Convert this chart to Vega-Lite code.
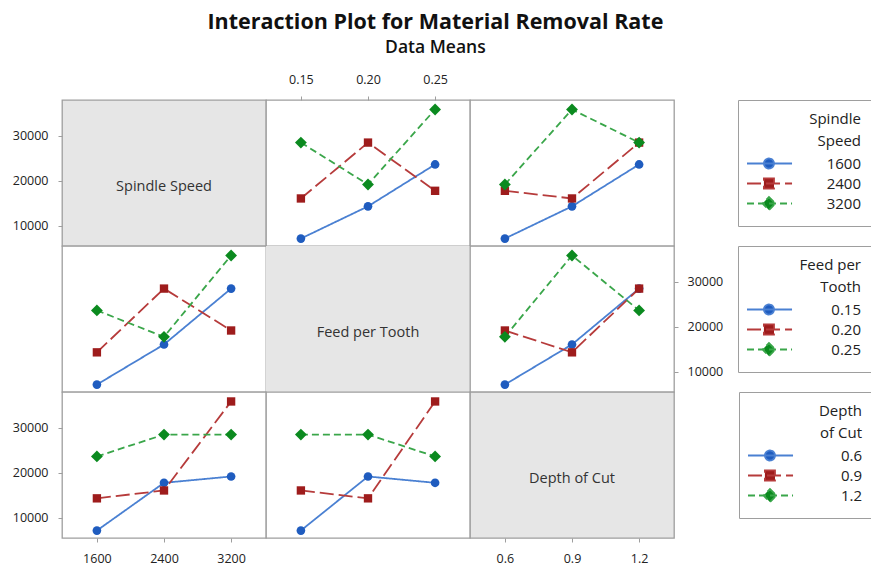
{
  "$schema": "https://vega.github.io/schema/vega-lite/v6.json",
  "padding": {"left": 11, "top": 12, "right": 0, "bottom": 0},
  "title": {
    "text": "Interaction Plot for Material Removal Rate",
    "subtitle": "Data Means",
    "anchor": "middle",
    "dx": -8,
    "font": "Open Sans",
    "subtitleFont": "Open Sans",
    "fontSize": 21.5,
    "subtitleFontSize": 17.5,
    "fontWeight": "bold",
    "subtitleFontWeight": 600,
    "color": "#111111",
    "subtitleColor": "#111111",
    "subtitlePadding": 5,
    "offset": 16
  },
  "datasets": {
    "means": [
      {"p": "12", "s": "1600", "x": "0.15", "MRR": 7150},
      {"p": "12", "s": "1600", "x": "0.20", "MRR": 14300},
      {"p": "12", "s": "1600", "x": "0.25", "MRR": 23600},
      {"p": "12", "s": "2400", "x": "0.15", "MRR": 16050},
      {"p": "12", "s": "2400", "x": "0.20", "MRR": 28450},
      {"p": "12", "s": "2400", "x": "0.25", "MRR": 17750},
      {"p": "12", "s": "3200", "x": "0.15", "MRR": 28450},
      {"p": "12", "s": "3200", "x": "0.20", "MRR": 19150},
      {"p": "12", "s": "3200", "x": "0.25", "MRR": 35800},
      {"p": "13", "s": "1600", "x": "0.6", "MRR": 7150},
      {"p": "13", "s": "1600", "x": "0.9", "MRR": 14300},
      {"p": "13", "s": "1600", "x": "1.2", "MRR": 23600},
      {"p": "13", "s": "2400", "x": "0.6", "MRR": 17750},
      {"p": "13", "s": "2400", "x": "0.9", "MRR": 16050},
      {"p": "13", "s": "2400", "x": "1.2", "MRR": 28450},
      {"p": "13", "s": "3200", "x": "0.6", "MRR": 19150},
      {"p": "13", "s": "3200", "x": "0.9", "MRR": 35800},
      {"p": "13", "s": "3200", "x": "1.2", "MRR": 28450},
      {"p": "21", "s": "0.15", "x": "1600", "MRR": 7150},
      {"p": "21", "s": "0.15", "x": "2400", "MRR": 16050},
      {"p": "21", "s": "0.15", "x": "3200", "MRR": 28450},
      {"p": "21", "s": "0.20", "x": "1600", "MRR": 14300},
      {"p": "21", "s": "0.20", "x": "2400", "MRR": 28450},
      {"p": "21", "s": "0.20", "x": "3200", "MRR": 19150},
      {"p": "21", "s": "0.25", "x": "1600", "MRR": 23600},
      {"p": "21", "s": "0.25", "x": "2400", "MRR": 17750},
      {"p": "21", "s": "0.25", "x": "3200", "MRR": 35800},
      {"p": "23", "s": "0.15", "x": "0.6", "MRR": 7150},
      {"p": "23", "s": "0.15", "x": "0.9", "MRR": 16050},
      {"p": "23", "s": "0.15", "x": "1.2", "MRR": 28450},
      {"p": "23", "s": "0.20", "x": "0.6", "MRR": 19150},
      {"p": "23", "s": "0.20", "x": "0.9", "MRR": 14300},
      {"p": "23", "s": "0.20", "x": "1.2", "MRR": 28450},
      {"p": "23", "s": "0.25", "x": "0.6", "MRR": 17750},
      {"p": "23", "s": "0.25", "x": "0.9", "MRR": 35800},
      {"p": "23", "s": "0.25", "x": "1.2", "MRR": 23600},
      {"p": "31", "s": "0.6", "x": "1600", "MRR": 7150},
      {"p": "31", "s": "0.6", "x": "2400", "MRR": 17750},
      {"p": "31", "s": "0.6", "x": "3200", "MRR": 19150},
      {"p": "31", "s": "0.9", "x": "1600", "MRR": 14300},
      {"p": "31", "s": "0.9", "x": "2400", "MRR": 16050},
      {"p": "31", "s": "0.9", "x": "3200", "MRR": 35800},
      {"p": "31", "s": "1.2", "x": "1600", "MRR": 23600},
      {"p": "31", "s": "1.2", "x": "2400", "MRR": 28450},
      {"p": "31", "s": "1.2", "x": "3200", "MRR": 28450},
      {"p": "32", "s": "0.6", "x": "0.15", "MRR": 7150},
      {"p": "32", "s": "0.6", "x": "0.20", "MRR": 19150},
      {"p": "32", "s": "0.6", "x": "0.25", "MRR": 17750},
      {"p": "32", "s": "0.9", "x": "0.15", "MRR": 16050},
      {"p": "32", "s": "0.9", "x": "0.20", "MRR": 14300},
      {"p": "32", "s": "0.9", "x": "0.25", "MRR": 35800},
      {"p": "32", "s": "1.2", "x": "0.15", "MRR": 28450},
      {"p": "32", "s": "1.2", "x": "0.20", "MRR": 28450},
      {"p": "32", "s": "1.2", "x": "0.25", "MRR": 23600}
    ]
  },
  "concat": [
    {
      "width": 204, "height": 146,
      "view": {"fill": "#e6e6e6"},
      "layer": [
        {"data": {"values": [{"label": "Spindle Speed"}]}, "mark": {"type": "text", "fontSize": 14.5, "dy": 14, "color": "#333333", "font": "Open Sans"}, "encoding": {"text": {"field": "label"}}},
        {"data": {"name": "means"}, "transform": [{"filter": "datum.p === '12'"}], "mark": {"type": "point", "opacity": 0},
         "encoding": {"y": {"field": "MRR", "type": "quantitative", "scale": {"domain": [5500, 37900], "nice": false, "zero": false}, "axis": {"orient": "left", "values": [10000, 20000, 30000], "format": "d"}}}}
      ]
    },
    {
      "width": 204, "height": 146,
      "data": {"name": "means"}, "transform": [{"filter": "datum.p === '12'"}],
      "encoding": {
        "x": {"field": "x", "type": "ordinal", "scale": {"type": "point", "domain": ["0.15", "0.20", "0.25"], "padding": 0.52}, "axis": {"orient": "top", "labelAngle": 0}},
        "y": {"field": "MRR", "type": "quantitative", "scale": {"domain": [5500, 37900], "nice": false, "zero": false}, "axis": null}
      },
      "layer": [
        {"mark": {"type": "line", "strokeWidth": 1.8}, "encoding": {
          "stroke": {"field": "s", "type": "nominal", "scale": {"range": ["#4a80d2", "#b63b3b", "#3aa64a"]}, "legend": null},
          "strokeDash": {"field": "s", "type": "nominal", "scale": {"range": [[1, 0], [14, 5], [7, 4]]}, "legend": null}}},
        {"mark": {"type": "point", "filled": true, "opacity": 1}, "encoding": {
          "fill": {"field": "s", "type": "nominal", "scale": {"range": ["#1f5cbf", "#9e1c1c", "#0b8a1f"]}, "legend": null},
          "shape": {"field": "s", "type": "nominal", "scale": {"range": ["circle", "square", "diamond"]}, "legend": null},
          "size": {"field": "s", "type": "ordinal", "scale": {"type": "ordinal", "range": [75, 70, 140]}, "legend": null}}}
      ]
    },
    {
      "width": 204, "height": 146,
      "data": {"name": "means"}, "transform": [{"filter": "datum.p === '13'"}],
      "encoding": {
        "x": {"field": "x", "type": "ordinal", "scale": {"type": "point", "domain": ["0.6", "0.9", "1.2"], "padding": 0.52}, "axis": null},
        "y": {"field": "MRR", "type": "quantitative", "scale": {"domain": [5500, 37900], "nice": false, "zero": false}, "axis": null}
      },
      "layer": [
        {"mark": {"type": "line", "strokeWidth": 1.8}, "encoding": {
          "stroke": {"field": "s", "type": "nominal", "scale": {"range": ["#4a80d2", "#b63b3b", "#3aa64a"]}, "legend": null},
          "strokeDash": {"field": "s", "type": "nominal", "scale": {"range": [[1, 0], [14, 5], [7, 4]]}, "legend": null}}},
        {"mark": {"type": "point", "filled": true, "opacity": 1}, "encoding": {
          "fill": {"field": "s", "type": "nominal", "scale": {"domain": ["1600", "2400", "3200"], "range": ["#1f5cbf", "#9e1c1c", "#0b8a1f"]},
            "legend": {"title": ["Spindle", "Speed"], "orient": "none", "legendX": 268, "legendY": 0,
              "symbolType": {"expr": "indexof(['1600','2400','3200'], datum.value) === 0 ? 'M-1.42,0H3.32M1.42,0A0.53,0.53,0,1,1,0.36,0A0.53,0.53,0,1,1,1.42,0Z' : indexof(['1600','2400','3200'], datum.value) === 1 ? 'M-1.42,0H3.32M0.36,-0.53H1.42V0.53H0.36Z' : 'M-1.42,0H3.32M0.89,-0.68L1.57,0L0.89,0.68L0.21,0Z'"},
              "symbolStrokeColor": {"expr": "['#4a80d2','#b63b3b','#3aa64a'][indexof(['1600','2400','3200'], datum.value)]"},
              "symbolDash": {"expr": "[[1,0],[14,5],[7,4]][indexof(['1600','2400','3200'], datum.value)]"},
              "symbolStrokeWidth": 1.8}},
          "shape": {"field": "s", "type": "nominal", "scale": {"range": ["circle", "square", "diamond"]}, "legend": null},
          "size": {"field": "s", "type": "ordinal", "scale": {"type": "ordinal", "range": [75, 70, 140]}, "legend": null}}}
      ]
    },
    {
      "width": 204, "height": 146,
      "data": {"name": "means"}, "transform": [{"filter": "datum.p === '21'"}],
      "encoding": {
        "x": {"field": "x", "type": "ordinal", "scale": {"type": "point", "domain": ["1600", "2400", "3200"], "padding": 0.52}, "axis": null},
        "y": {"field": "MRR", "type": "quantitative", "scale": {"domain": [5500, 37900], "nice": false, "zero": false}, "axis": null}
      },
      "layer": [
        {"mark": {"type": "line", "strokeWidth": 1.8}, "encoding": {
          "stroke": {"field": "s", "type": "nominal", "scale": {"range": ["#4a80d2", "#b63b3b", "#3aa64a"]}, "legend": null},
          "strokeDash": {"field": "s", "type": "nominal", "scale": {"range": [[1, 0], [14, 5], [7, 4]]}, "legend": null}}},
        {"mark": {"type": "point", "filled": true, "opacity": 1}, "encoding": {
          "fill": {"field": "s", "type": "nominal", "scale": {"range": ["#1f5cbf", "#9e1c1c", "#0b8a1f"]}, "legend": null},
          "shape": {"field": "s", "type": "nominal", "scale": {"range": ["circle", "square", "diamond"]}, "legend": null},
          "size": {"field": "s", "type": "ordinal", "scale": {"type": "ordinal", "range": [75, 70, 140]}, "legend": null}}}
      ]
    },
    {
      "width": 204, "height": 146,
      "view": {"fill": "#e6e6e6"},
      "data": {"values": [{"label": "Feed per Tooth"}]},
      "mark": {"type": "text", "fontSize": 14.5, "dy": 14, "color": "#333333", "font": "Open Sans"},
      "encoding": {"text": {"field": "label"}}
    },
    {
      "width": 204, "height": 146,
      "data": {"name": "means"}, "transform": [{"filter": "datum.p === '23'"}],
      "encoding": {
        "x": {"field": "x", "type": "ordinal", "scale": {"type": "point", "domain": ["0.6", "0.9", "1.2"], "padding": 0.52}, "axis": null},
        "y": {"field": "MRR", "type": "quantitative", "scale": {"domain": [5500, 37900], "nice": false, "zero": false}, "axis": {"orient": "right", "values": [10000, 20000, 30000], "format": "d", "labelPadding": 9}}
      },
      "layer": [
        {"mark": {"type": "line", "strokeWidth": 1.8}, "encoding": {
          "stroke": {"field": "s", "type": "nominal", "scale": {"range": ["#4a80d2", "#b63b3b", "#3aa64a"]}, "legend": null},
          "strokeDash": {"field": "s", "type": "nominal", "scale": {"range": [[1, 0], [14, 5], [7, 4]]}, "legend": null}}},
        {"mark": {"type": "point", "filled": true, "opacity": 1}, "encoding": {
          "fill": {"field": "s", "type": "nominal", "scale": {"domain": ["0.15", "0.20", "0.25"], "range": ["#1f5cbf", "#9e1c1c", "#0b8a1f"]},
            "legend": {"title": ["Feed per", "Tooth"], "orient": "none", "legendX": 268, "legendY": 0,
              "symbolType": {"expr": "indexof(['0.15','0.20','0.25'], datum.value) === 0 ? 'M-1.42,0H3.32M1.42,0A0.53,0.53,0,1,1,0.36,0A0.53,0.53,0,1,1,1.42,0Z' : indexof(['0.15','0.20','0.25'], datum.value) === 1 ? 'M-1.42,0H3.32M0.36,-0.53H1.42V0.53H0.36Z' : 'M-1.42,0H3.32M0.89,-0.68L1.57,0L0.89,0.68L0.21,0Z'"},
              "symbolStrokeColor": {"expr": "['#4a80d2','#b63b3b','#3aa64a'][indexof(['0.15','0.20','0.25'], datum.value)]"},
              "symbolDash": {"expr": "[[1,0],[14,5],[7,4]][indexof(['0.15','0.20','0.25'], datum.value)]"},
              "symbolStrokeWidth": 1.8}},
          "shape": {"field": "s", "type": "nominal", "scale": {"range": ["circle", "square", "diamond"]}, "legend": null},
          "size": {"field": "s", "type": "ordinal", "scale": {"type": "ordinal", "range": [75, 70, 140]}, "legend": null}}}
      ]
    },
    {
      "width": 204, "height": 146,
      "data": {"name": "means"}, "transform": [{"filter": "datum.p === '31'"}],
      "encoding": {
        "x": {"field": "x", "type": "ordinal", "scale": {"type": "point", "domain": ["1600", "2400", "3200"], "padding": 0.52}, "axis": {"orient": "bottom", "labelAngle": 0}},
        "y": {"field": "MRR", "type": "quantitative", "scale": {"domain": [5500, 37900], "nice": false, "zero": false}, "axis": {"orient": "left", "values": [10000, 20000, 30000], "format": "d"}}
      },
      "layer": [
        {"mark": {"type": "line", "strokeWidth": 1.8}, "encoding": {
          "stroke": {"field": "s", "type": "nominal", "scale": {"range": ["#4a80d2", "#b63b3b", "#3aa64a"]}, "legend": null},
          "strokeDash": {"field": "s", "type": "nominal", "scale": {"range": [[1, 0], [14, 5], [7, 4]]}, "legend": null}}},
        {"mark": {"type": "point", "filled": true, "opacity": 1}, "encoding": {
          "fill": {"field": "s", "type": "nominal", "scale": {"range": ["#1f5cbf", "#9e1c1c", "#0b8a1f"]}, "legend": null},
          "shape": {"field": "s", "type": "nominal", "scale": {"range": ["circle", "square", "diamond"]}, "legend": null},
          "size": {"field": "s", "type": "ordinal", "scale": {"type": "ordinal", "range": [75, 70, 140]}, "legend": null}}}
      ]
    },
    {
      "width": 204, "height": 146,
      "data": {"name": "means"}, "transform": [{"filter": "datum.p === '32'"}],
      "encoding": {
        "x": {"field": "x", "type": "ordinal", "scale": {"type": "point", "domain": ["0.15", "0.20", "0.25"], "padding": 0.52}, "axis": null},
        "y": {"field": "MRR", "type": "quantitative", "scale": {"domain": [5500, 37900], "nice": false, "zero": false}, "axis": null}
      },
      "layer": [
        {"mark": {"type": "line", "strokeWidth": 1.8}, "encoding": {
          "stroke": {"field": "s", "type": "nominal", "scale": {"range": ["#4a80d2", "#b63b3b", "#3aa64a"]}, "legend": null},
          "strokeDash": {"field": "s", "type": "nominal", "scale": {"range": [[1, 0], [14, 5], [7, 4]]}, "legend": null}}},
        {"mark": {"type": "point", "filled": true, "opacity": 1}, "encoding": {
          "fill": {"field": "s", "type": "nominal", "scale": {"domain": ["0.6", "0.9", "1.2"], "range": ["#1f5cbf", "#9e1c1c", "#0b8a1f"]},
            "legend": {"title": ["Depth", "of Cut"], "orient": "none", "legendX": 473, "legendY": 0,
              "symbolType": {"expr": "indexof(['0.6','0.9','1.2'], datum.value) === 0 ? 'M-1.42,0H3.32M1.42,0A0.53,0.53,0,1,1,0.36,0A0.53,0.53,0,1,1,1.42,0Z' : indexof(['0.6','0.9','1.2'], datum.value) === 1 ? 'M-1.42,0H3.32M0.36,-0.53H1.42V0.53H0.36Z' : 'M-1.42,0H3.32M0.89,-0.68L1.57,0L0.89,0.68L0.21,0Z'"},
              "symbolStrokeColor": {"expr": "['#4a80d2','#b63b3b','#3aa64a'][indexof(['0.6','0.9','1.2'], datum.value)]"},
              "symbolDash": {"expr": "[[1,0],[14,5],[7,4]][indexof(['0.6','0.9','1.2'], datum.value)]"},
              "symbolStrokeWidth": 1.8}},
          "shape": {"field": "s", "type": "nominal", "scale": {"range": ["circle", "square", "diamond"]}, "legend": null},
          "size": {"field": "s", "type": "ordinal", "scale": {"type": "ordinal", "range": [75, 70, 140]}, "legend": null}}}
      ]
    },
    {
      "width": 204, "height": 146,
      "view": {"fill": "#e6e6e6"},
      "layer": [
        {"data": {"values": [{"label": "Depth of Cut"}]}, "mark": {"type": "text", "fontSize": 14.5, "dy": 14, "color": "#333333", "font": "Open Sans"}, "encoding": {"text": {"field": "label"}}},
        {"data": {"name": "means"}, "transform": [{"filter": "datum.p === '23'"}], "mark": {"type": "point", "opacity": 0},
         "encoding": {"x": {"field": "x", "type": "ordinal", "scale": {"type": "point", "domain": ["0.6", "0.9", "1.2"], "padding": 0.52}, "axis": {"orient": "bottom", "labelAngle": 0}}}}
      ]
    }
  ],
  "columns": 3,
  "spacing": 0,
  "bounds": "flush",
  "resolve": {
    "scale": {"x": "independent", "y": "independent", "fill": "independent", "stroke": "independent", "strokeDash": "independent", "shape": "independent", "size": "independent"},
    "axis": {"x": "independent", "y": "independent"},
    "legend": {"fill": "independent"}
  },
  "config": {
    "view": {"stroke": "#9e9e9e", "strokeWidth": 1.3, "fill": "#ffffff"},
    "axis": {
      "domain": false, "grid": false, "ticks": true, "tickSize": 4, "tickColor": "#9e9e9e",
      "labelFont": "Open Sans", "labelFontSize": 12.5, "labelColor": "#222222", "labelPadding": 10, "title": null
    },
    "legend": {
      "padding": 12, "strokeColor": "#9e9e9e", "fillColor": "#ffffff",
      "titleAlign": "right", "titleAnchor": "end", "titleFont": "Open Sans", "titleFontSize": 15, "titleFontWeight": "normal",
      "titleColor": "#222222", "titleLineHeight": 22, "titlePadding": 4,
      "labelFont": "Open Sans", "labelFontSize": 15, "labelColor": "#222222", "labelAlign": "right", "labelOffset": 90,
      "symbolSize": 361, "rowPadding": 0
    }
  }
}
